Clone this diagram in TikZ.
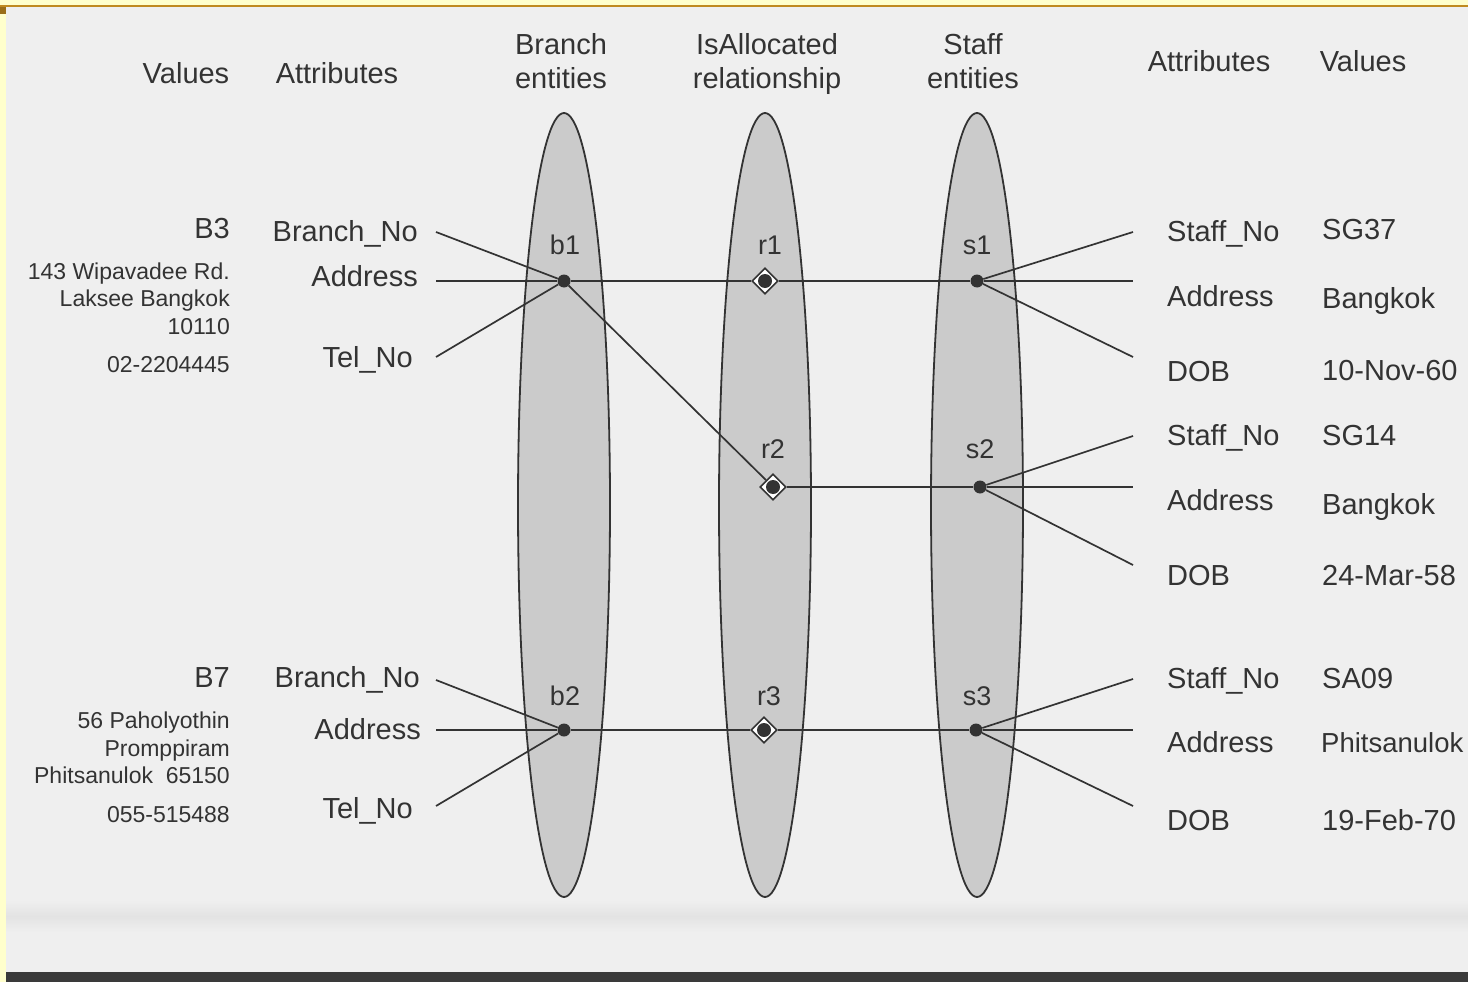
\documentclass[tikz,border=0pt]{standalone}
\usepackage{fontspec}
\setmainfont{Liberation Sans}
\usetikzlibrary{shapes.geometric}
\definecolor{paper}{HTML}{EFEFEF}
\definecolor{paperband}{HTML}{E3E3E3}
\definecolor{ink}{HTML}{333333}
\definecolor{setfill}{HTML}{CBCBCB}
\definecolor{frameyellow}{HTML}{FFFFCC}
\definecolor{framebrown}{HTML}{C08A20}
\definecolor{bottomdark}{HTML}{3A3A3A}

\begin{document}
\begin{tikzpicture}[x=1pt,y=-1pt,
  entityset/.style={ellipse, draw=ink, line width=1.8pt, fill=setfill,
    minimum width=92pt, minimum height=784pt, inner sep=0pt},
  entdot/.style={circle, fill=ink, minimum size=13pt, inner sep=0pt},
  reldot/.style={diamond, draw=ink, line width=1.6pt, fill=white,
    minimum size=26pt, inner sep=0pt},
  link/.style={draw=ink, line width=1.7pt},
  big/.style={text=ink, font=\fontsize{29}{34}\selectfont, inner sep=0pt},
  small/.style={text=ink, font=\fontsize{23}{27}\selectfont, inner sep=0pt},
  lbl/.style={text=ink, font=\fontsize{27}{32}\selectfont, inner sep=0pt},
]
\useasboundingbox (0,0) rectangle (1468,982);

% page, frame and bottom edge
\fill[paper] (0,0) rectangle (1468,982);
\shade[top color=paper, bottom color=paper, middle color=paperband]
  (6,900) rectangle (1468,932);
\fill[frameyellow] (0,0) rectangle (1468,5);
\fill[frameyellow] (0,0) rectangle (6,982);
\fill[framebrown] (0,5) rectangle (1468,7.5);
\fill[framebrown!80!black] (0,7) rectangle (6,14);
\fill[bottomdark] (6,972) rectangle (1468,982);

% entity sets and relationship set
\node[entityset] (branchset) at (564,505) {};
\node[entityset] (allocset) at (765,505) {};
\node[entityset] (staffset) at (977,505) {};

% occurrences
\node[entdot] (b1) at (564,281) {};
\node[entdot] (b2) at (564,730) {};
\node[reldot] (r1) at (765,281) {};
\node[reldot] (r2) at (773,487) {};
\node[reldot] (r3) at (764,730) {};
\node[entdot] (s1) at (977,281) {};
\node[entdot] (s2) at (980,487) {};
\node[entdot] (s3) at (976,730) {};
\foreach \r in {r1,r2,r3} \fill[ink] (\r) circle (7pt);

% free ends of the attribute lines
\coordinate (lb1n) at (436,232);
\coordinate (lb1a) at (436,281);
\coordinate (lb1t) at (436,357);
\coordinate (lb2n) at (436,680);
\coordinate (lb2a) at (436,730);
\coordinate (lb2t) at (436,806);
\coordinate (rs1n) at (1133,232);
\coordinate (rs1a) at (1133,281);
\coordinate (rs1d) at (1133,357);
\coordinate (rs2n) at (1133,436);
\coordinate (rs2a) at (1133,487);
\coordinate (rs2d) at (1133,565);
\coordinate (rs3n) at (1133,679);
\coordinate (rs3a) at (1133,730);
\coordinate (rs3d) at (1133,806);

% connectors
\path[link] (lb1n) -- (b1);
\path[link] (lb1a) -- (b1);
\path[link] (lb1t) -- (b1);
\path[link] (b1) -- (r1);
\path[link] (r1) -- (s1);
\path[link] (b1) -- (r2);
\path[link] (r2) -- (s2);
\path[link] (lb2n) -- (b2);
\path[link] (lb2a) -- (b2);
\path[link] (lb2t) -- (b2);
\path[link] (b2) -- (r3);
\path[link] (r3) -- (s3);
\path[link] (s1) -- (rs1n);
\path[link] (s1) -- (rs1a);
\path[link] (s1) -- (rs1d);
\path[link] (s2) -- (rs2n);
\path[link] (s2) -- (rs2a);
\path[link] (s2) -- (rs2d);
\path[link] (s3) -- (rs3n);
\path[link] (s3) -- (rs3a);
\path[link] (s3) -- (rs3d);

% occurrence labels
\node[lbl, anchor=base] (tb1) at (565,254) {b1};
\node[lbl, anchor=base] (tr1) at (770,254) {r1};
\node[lbl, anchor=base] (ts1) at (977,254) {s1};
\node[lbl, anchor=base] (tr2) at (773,458) {r2};
\node[lbl, anchor=base] (ts2) at (980,458) {s2};
\node[lbl, anchor=base] (tb2) at (565,705) {b2};
\node[lbl, anchor=base] (tr3) at (769,705) {r3};
\node[lbl, anchor=base] (ts3) at (977,705) {s3};

% column headings
\node[big, anchor=base] (hvl) at (186,83.5) {Values};
\node[big, anchor=base] (hal) at (337,83.5) {Attributes};
\node[big, anchor=base] (hb1) at (561,54.5) {Branch};
\node[big, anchor=base] (hb2) at (561,88.5) {entities};
\node[big, anchor=base] (hr1) at (767,54.5) {IsAllocated};
\node[big, anchor=base] (hr2) at (767,88.5) {relationship};
\node[big, anchor=base] (hs1) at (973,54.5) {Staff};
\node[big, anchor=base] (hs2) at (973,88.5) {entities};
\node[big, anchor=base] (har) at (1209,71.5) {Attributes};
\node[big, anchor=base] (hvr) at (1363,71.5) {Values};

% branch B3
\node[big, anchor=base east] (vb3) at (230,238.5) {B3};
\node[small, anchor=base east] (vb3a1) at (230,279.3) {143 Wipavadee Rd.};
\node[small, anchor=base east] (vb3a2) at (230,306.3) {Laksee Bangkok};
\node[small, anchor=base east] (vb3a3) at (230,334.3) {10110};
\node[small, anchor=base east] (vb3t) at (230,372.3) {02-2204445};
\node[big, anchor=base east] (ab1n) at (418,241.5) {Branch\_No};
\node[big, anchor=base east] (ab1a) at (418,286.5) {Address};
\node[big, anchor=base east] (ab1t) at (413,367.5) {Tel\_No};

% branch B7
\node[big, anchor=base east] (vb7) at (230,687.5) {B7};
\node[small, anchor=base east] (vb7a1) at (230,728.3) {56 Paholyothin};
\node[small, anchor=base east] (vb7a2) at (230,756.3) {Promppiram};
\node[small, anchor=base east] (vb7a3) at (230,783.3) {Phitsanulok\ \ 65150};
\node[small, anchor=base east] (vb7t) at (230,822.3) {055-515488};
\node[big, anchor=base east] (ab2n) at (420,687.5) {Branch\_No};
\node[big, anchor=base east] (ab2a) at (421,739.5) {Address};
\node[big, anchor=base east] (ab2t) at (413,818.5) {Tel\_No};

% staff attributes
\node[big, anchor=base west] (as1n) at (1167,241.5) {Staff\_No};
\node[big, anchor=base west] (as1a) at (1167,306.5) {Address};
\node[big, anchor=base west] (as1d) at (1167,381.5) {DOB};
\node[big, anchor=base west] (as2n) at (1167,445.5) {Staff\_No};
\node[big, anchor=base west] (as2a) at (1167,510.5) {Address};
\node[big, anchor=base west] (as2d) at (1167,585.5) {DOB};
\node[big, anchor=base west] (as3n) at (1167,688.5) {Staff\_No};
\node[big, anchor=base west] (as3a) at (1167,752.5) {Address};
\node[big, anchor=base west] (as3d) at (1167,830.5) {DOB};

% staff values
\node[big, anchor=base west] (vs1n) at (1322,239.5) {SG37};
\node[big, anchor=base west] (vs1a) at (1322,308.5) {Bangkok};
\node[big, anchor=base west] (vs1d) at (1322,380.5) {10-Nov-60};
\node[big, anchor=base west] (vs2n) at (1322,445.5) {SG14};
\node[big, anchor=base west] (vs2a) at (1322,514.5) {Bangkok};
\node[big, anchor=base west] (vs2d) at (1322,585.5) {24-Mar-58};
\node[big, anchor=base west] (vs3n) at (1322,688.5) {SA09};
\node[big, anchor=base west, font=\fontsize{27.5}{32}\selectfont] (vs3a) at (1321,752.5) {Phitsanulok};
\node[big, anchor=base west] (vs3d) at (1322,830.5) {19-Feb-70};
\end{tikzpicture}
\end{document}
